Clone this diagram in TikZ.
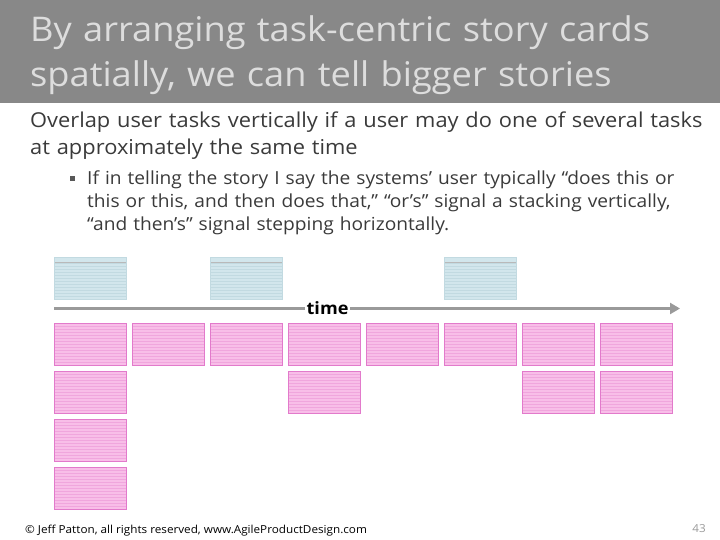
\documentclass[tikz,border=0pt]{standalone}
\usepackage{fontspec}
\setmainfont{Open Sans}[FakeStretch=1.065]
\usetikzlibrary{arrows.meta,positioning}

\definecolor{titlegray}{HTML}{888888}
\definecolor{titletext}{HTML}{DDDDDD}
\definecolor{bodytext}{HTML}{3A3A3A}
\definecolor{cardpink}{HTML}{F8BEE8}
\definecolor{pinkline}{HTML}{F0A6DD}
\definecolor{pinkedge}{HTML}{E27ACB}
\definecolor{cardblue}{HTML}{D2E6EC}
\definecolor{blueline}{HTML}{C2DAE1}
\definecolor{arrowgray}{HTML}{9A9A9A}

\begin{document}
\begin{tikzpicture}[x=1pt, y=-1pt,
            card/.style={minimum width=72pt, minimum height=42pt, inner sep=0pt, outer sep=0pt},
            pinkcard/.style={card, fill=cardpink, draw=pinkedge, line width=0.5pt,
                path picture={\foreach \k in {1,...,13}
                    \draw[pinkline, line width=0.6pt] ([yshift=-\k*3pt]path picture bounding box.north west) -- ([yshift=-\k*3pt]path picture bounding box.north east);}},
            bluecard/.style={card, fill=cardblue, draw=blueline, line width=0.4pt,
                path picture={\foreach \k in {2,...,13}
                    \draw[blueline, line width=0.4pt] ([yshift=-\k*3pt]path picture bounding box.north west) -- ([yshift=-\k*3pt]path picture bounding box.north east);
                    \draw[gray!55, line width=0.5pt] ([yshift=-5pt]path picture bounding box.north west) -- ([yshift=-5pt]path picture bounding box.north east);}},
            timearrow/.style={-{Triangle[length=10pt, width=11pt]}, line width=3.5pt, arrowgray},
            node distance=6pt and 6pt
        ]

        \useasboundingbox (0,0) rectangle (720,540);

        % title bar
        \fill[titlegray] (0,0) rectangle (720,103);
        \node[anchor=base west, inner sep=0pt, text width=700pt, align=left, text=titletext,
              font=\fontsize{34}{45}\selectfont] (title) at (30,42)
            {By arranging task-centric story cards\\spatially, we can tell bigger stories};

        % body text
        \node[anchor=base west, inner sep=0pt, text width=700pt, align=left, text=bodytext,
              font=\fontsize{20.5}{27}\selectfont] (point) at (30,128)
            {Overlap user tasks vertically if a user may do one of several tasks\\at approximately the same time};
        \node[fill=bodytext!85, minimum size=5.5pt, inner sep=0pt] (bullet) at (72.5,178.5) {};
        \node[anchor=base west, inner sep=0pt, text width=630pt, align=left, text=bodytext,
              font=\fontsize{18}{23}\selectfont] (detail) at (87,184.5)
            {If in telling the story I say the systems’ user typically “does this or\\this or this, and then does that,” “or’s” signal a stacking vertically,\\“and then’s” signal stepping horizontally.};

        % user tasks along the timeline
        \node[pinkcard, anchor=north west] (task1) at (54,323) {};
        \foreach \i [count=\j from 2] in {1,...,7}
            \node[pinkcard, right=of task\i] (task\j) {};

        % alternative tasks stacked below
        \node[pinkcard, below=of task1] (alt1) {};
        \node[pinkcard, below=of alt1] (alt1b) {};
        \node[pinkcard, below=of alt1b] (alt1c) {};
        \node[pinkcard, below=of task4] (alt4) {};
        \node[pinkcard, below=of task7] (alt7) {};
        \node[pinkcard, below=of task8] (alt8) {};

        % goals above
        \node[bluecard, above=24pt of task1] (goal1) {};
        \node[bluecard, above=24pt of task3] (goal3) {};
        \node[bluecard, above=24pt of task6] (goal6) {};

        % time arrow
        \coordinate (tstart) at (54,308.5);
        \coordinate (tend) at (680,308.5);
        \draw[timearrow] (tstart) -- node[pos=0.437, fill=white, text=black, inner sep=2pt,
              font=\bfseries\fontsize{17}{17}\selectfont] (timelabel) {time} (tend);

        % footer
        \node[anchor=base west, inner sep=0pt, font=\fontsize{11}{12}\selectfont] (copy) at (25,533)
            {© Jeff Patton, all rights reserved, www.AgileProductDesign.com};
        \node[anchor=base east, inner sep=0pt, text=gray!80, font=\fontsize{11}{11}\selectfont] (page) at (706,532)
            {43};

    \end{tikzpicture}
\end{document}
